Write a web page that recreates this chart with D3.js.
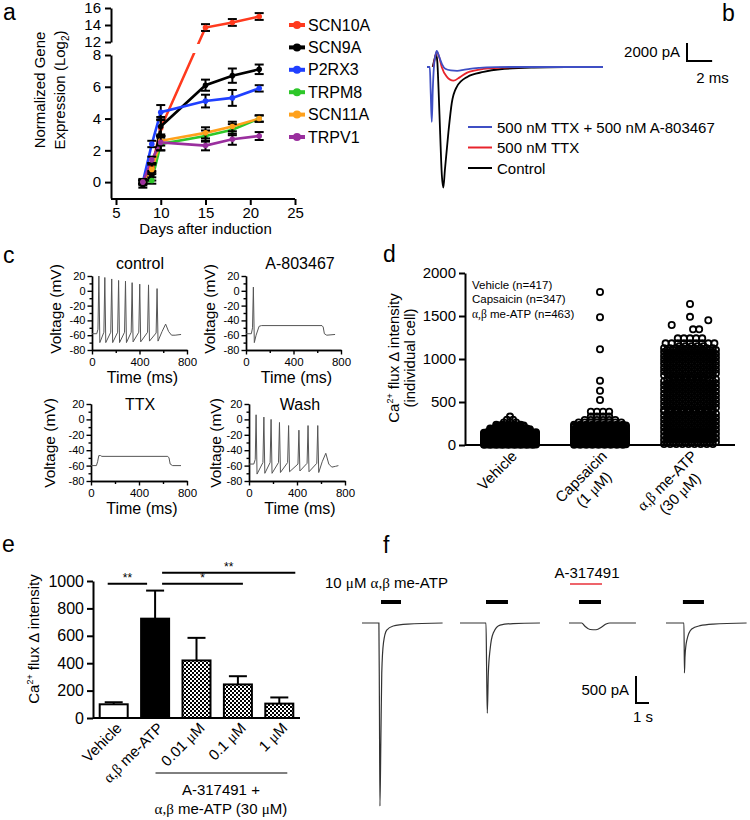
<!DOCTYPE html>
<html><head><meta charset="utf-8">
<script src="https://cdn.jsdelivr.net/npm/d3@7"></script>
<style>
body{margin:0;background:#fff}
text{font-family:"Liberation Sans",Arial,Helvetica,sans-serif;fill:#000}
</style>
</head><body>
<script>
// ================= DATA =================
// ---- panel a: qPCR time course ----
const aDays = [8, 9, 10, 15, 18, 21];
const aGenes = ["SCN10A", "SCN9A", "P2RX3", "TRPM8", "SCN11A", "TRPV1"];
const aSCN10A = [0, 0.9, 3.4, 13.7, 14.3, 15.0];
const aSCN10AErr = [0.2, 0.3, 0.5, 0.4, 0.4, 0.4];
const aSCN9A = [-0.2, 0.4, 3.5, 6.1, 6.7, 7.1];
const aSCN9AErr = [0.15, 0.3, 0.6, 0.35, 0.45, 0.3];
const aP2RX3 = [0, 2.4, 4.4, 5.1, 5.3, 5.9];
const aP2RX3Err = [0.1, 0.2, 0.45, 0.4, 0.5, 0.2];
const aTRPM8 = [0, 0.1, 2.4, 2.9, 3.3, 4.0];
const aTRPM8Err = [0.1, 0.2, 0.4, 0.35, 0.35, 0.2];
const aSCN11A = [0, 0.8, 2.6, 3.1, 3.5, 4.0];
const aSCN11AErr = [0.1, 0.3, 0.3, 0.35, 0.3, 0.2];
const aTRPV1 = [0, 1.4, 2.5, 2.3, 2.7, 2.9];
const aTRPV1Err = [0.1, 0.2, 0.5, 0.3, 0.35, 0.25];
const aXTicks = [5, 10, 15, 20, 25];
const aYTicksLow = [0, 2, 4, 6, 8];
const aYTicksHigh = [12, 14, 16];

// ---- panel b: Na currents, [ms, pA] ----
const bLegend = ["500 nM TTX + 500 nM A-803467", "500 nM TTX", "Control"];
const bControl = [[0.45,0],[0.6,900],[0.72,1400],[0.82,600],[0.92,-2500],[1.05,-7500],[1.18,-12000],[1.3,-13400],[1.42,-11500],[1.7,-7300],[1.97,-4000],[2.37,-2200],[3.2,-1100],[4.5,-550],[5.8,-250],[8.5,-60],[11,-10],[14,0]];
const bTTX = [[0.5,0],[0.62,900],[0.77,1700],[0.95,1200],[1.17,0],[1.57,-1070],[2.1,-1520],[2.6,-1150],[3.2,-630],[4.5,-220],[5.8,-80],[8,-10],[14,0]];
const bTTXA = [[0,0],[0.22,0],[0.3,-3000],[0.38,-6100],[0.46,-2500],[0.55,0],[0.66,1200],[0.78,1780],[0.95,1200],[1.2,300],[1.45,-200],[1.9,-380],[2.4,-420],[2.9,-330],[3.4,-200],[4.2,-90],[5.5,-20],[7,0],[14,0]];

// ---- panel c: current-clamp, [ms, mV] ----
const cTitles = ["control", "A-803467", "TTX", "Wash"];
const cControl = [[0,-58],[40,-58],[50,-52],[58,20],[66,-70],[100,-56],[108,18],[116,-70],[158,-56],[166,16],[174,-70],[216,-56],[224,14],[232,-70],[274,-56],[282,13],[290,-70],[330,-56],[338,11],[346,-69],[394,-56],[402,9],[410,-69],[468,-56],[476,8],[484,-68],[540,-57],[548,3],[556,-68],[590,-55],[620,-45],[645,-55],[670,-60],[700,-60],[750,-59]];
const cA803467 = [[0,-58],[45,-58],[55,-50],[62,5],[70,-70],[85,-60],[110,-48],[130,-47],[640,-47],[650,-49],[660,-58],[680,-60],[750,-59]];
const cTTX = [[0,-60],[45,-60],[55,-55],[65,-47],[80,-47],[90,-48],[640,-48],[650,-50],[660,-58],[680,-60],[750,-60]];
const cWash = [[0,-58],[40,-58],[52,-52],[59,6],[67,-71],[116,-56],[124,3],[132,-70],[176,-56],[184,0],[192,-70],[246,-56],[254,-4],[262,-69],[322,-56],[330,-8],[338,-68],[408,-58],[416,-14],[424,-67],[484,-57],[492,-8],[500,-68],[565,-57],[573,-8],[581,-69],[610,-55],[640,-44],[665,-58],[690,-62],[720,-61],[745,-60]];
const cYTicks = [20, 0, -20, -40, -60, -80];
const cXTicks = [0, 400, 800];

// ---- panel d: individual-cell Ca2+ responses ----
const dCats = ["Vehicle", "Capsaicin", "α,β me-ATP"];
const dLegend = ["Vehicle (n=417)", "Capsaicin (n=347)", "α,β me-ATP (n=463)"];
// dense ranges: [low, high, number of cells, max cells side by side]
const dVehicleBins = [[0, 100, 246, 9], [100, 150, 90, 9], [150, 200, 50, 7], [200, 240, 25, 5]];
// sparse rows: [value, number of cells in the row]
const dVehicleRows = [[262, 3], [295, 2], [330, 1]];
const dCapsBins = [[0, 100, 164, 9], [100, 200, 110, 9], [200, 240, 45, 9]];
const dCapsRows = [[262, 8], [292, 6], [330, 4], [387, 4], [523, 1], [631, 1], [748, 1], [1113, 1], [1485, 1], [1779, 1]];
const dAtpBins = [[0, 400, 153, 9], [400, 800, 150, 9], [800, 1160, 140, 9]];
const dAtpRows = [[1182, 9], [1240, 5], [1345, 2], [1395, 1], [1450, 1], [1490, 1], [1640, 1]];
const dAtpRowShift = [0, 0, 1, -3, 3, 0, 0];
const dYTicks = [0, 500, 1000, 1500, 2000];

// ---- panel e: mean Ca2+ flux ----
const eCats = ["Vehicle", "α,β me-ATP", "0.01 μM", "0.1 μM", "1 μM"];
const eMeans = [100, 725, 420, 245, 105];
const eSEM = [15, 205, 165, 60, 45];
const eYTicks = [0, 200, 400, 600, 800, 1000];
const eComparisons = [["Vehicle", "α,β me-ATP", "**"], ["α,β me-ATP", "0.1 μM", "*"], ["α,β me-ATP", "1 μM", "**"]];

// ---- panel f: P2X3 currents, [s, pA] ----
const fTrace1 = [[0,0],[1.3,0],[1.34,-1500],[1.38,-3390],[1.45,-2200],[1.52,-926],[1.65,-370],[1.9,-130],[2.4,-55],[3.5,-20],[6.2,0]];
const fTrace2 = [[0,0],[2.0,0],[2.05,-900],[2.1,-1670],[2.18,-926],[2.31,-500],[2.56,-185],[3.08,-40],[4.08,-10],[6.15,0]];
const fTrace3 = [[0,0],[0.98,0],[1.23,-60],[1.62,-120],[2.08,-125],[2.54,-70],[2.85,-20],[3.15,0],[5.15,0]];
const fTrace4 = [[0,0],[1.38,0],[1.42,-925],[1.46,-630],[1.59,-330],[1.98,-110],[2.62,-50],[3.62,-20],[6.2,0]];
const fAgonistOn = [1.46, 2.0, 0.77, 1.3];
const fAgonistOff = [3.0, 3.69, 2.46, 2.92];

// ================= DRAWING =================
const SERIF = '"Liberation Serif","Times New Roman",serif';
const svg = d3.select("body").append("svg").attr("width", 750).attr("height", 820);
const defs = svg.append("defs");
const fmtInt = d3.format("d");

function styleAxis(g, fs, sw) {
  g.attr("font-family", null).attr("font-size", null);
  g.selectAll("text").style("font-size", fs + "px").attr("fill", "#000");
  g.selectAll("line").attr("stroke", "#000").attr("stroke-width", sw);
  g.select(".domain").attr("stroke", "#000").attr("stroke-width", sw);
}
function panelLabel(t, x, y) {
  svg.append("text").attr("x", x).attr("y", y).style("font-size", "23px").text(t);
}
function sup(textSel, pre, supTxt, post, fs) {
  textSel.append("tspan").text(pre);
  textSel.append("tspan").attr("dy", -fs * 0.4).style("font-size", (fs * 0.6) + "px").text(supTxt);
  textSel.append("tspan").attr("dy", fs * 0.4).text(post);
}
function greek(sel, str) {
  str.split(/(α,β|μ)/).forEach(p => {
    if (!p) return;
    const t = sel.append("tspan").text(p);
    if (p === "α,β" || p === "μ") t.style("font-family", SERIF);
  });
}

// ---------- Panel a ----------
panelLabel("a", 3, 20);
const aColors = ["#ff3a1e", "#000000", "#2040ff", "#2ec72a", "#ffa11c", "#9a2f9e"];
const aVals = [aSCN10A, aSCN9A, aP2RX3, aTRPM8, aSCN11A, aTRPV1];
const aErrs = [aSCN10AErr, aSCN9AErr, aP2RX3Err, aTRPM8Err, aSCN11AErr, aTRPV1Err];
const ax = d3.scaleLinear().domain([5, 25]).range([116, 295]);
const ayLow = d3.scaleLinear().domain([-1, 8]).range([198, 55]);
const ayHigh = d3.scaleLinear().domain([12, 16]).range([42, 8]);
function ay(v) {
  if (v <= 8) return ayLow(v);
  if (v >= 12) return ayHigh(v);
  return ayLow(8) + (v - 8) / 4 * (ayHigh(12) - ayLow(8));
}
const aG = svg.append("g");
aG.append("g").attr("transform", "translate(111,0)")
  .call(d3.axisLeft(ayLow).tickValues(aYTicksLow).tickFormat(fmtInt).tickSize(6).tickSizeOuter(0).tickPadding(4))
  .call(g => styleAxis(g, 15, 2));
aG.append("g").attr("transform", "translate(111,0)")
  .call(d3.axisLeft(ayHigh).tickValues(aYTicksHigh).tickFormat(fmtInt).tickSize(6).tickSizeOuter(0).tickPadding(4))
  .call(g => styleAxis(g, 15, 2));
aG.append("g").attr("transform", "translate(0,199)")
  .call(d3.axisBottom(ax).tickValues(aXTicks).tickFormat(fmtInt).tickSize(6).tickSizeOuter(0).tickPadding(2))
  .call(g => styleAxis(g, 15, 2))
  .call(g => g.select(".domain").attr("d", `M111,0H${ax(25)}`));
const cpA = defs.append("clipPath").attr("id", "aBreak");
cpA.append("rect").attr("x", 105).attr("y", 0).attr("width", 200).attr("height", 44);
cpA.append("rect").attr("x", 105).attr("y", 53).attr("width", 200).attr("height", 160);
const aLine = d3.line().x((d, i) => ax(aDays[i])).y(d => ay(d));
const aPlot = aG.append("g").attr("clip-path", "url(#aBreak)");
aGenes.forEach((gname, si) => {
  aPlot.append("path").datum(aVals[si]).attr("d", aLine)
    .attr("fill", "none").attr("stroke", aColors[si]).attr("stroke-width", 2.6);
});
aGenes.forEach((gname, si) => {
  const eg = aG.append("g");
  aVals[si].forEach((v, i) => {
    const x = ax(aDays[i]), e = aErrs[si][i];
    eg.append("line").attr("x1", x).attr("x2", x).attr("y1", ay(v - e)).attr("y2", ay(v + e)).attr("stroke", "#000").attr("stroke-width", 2);
    [v - e, v + e].forEach(w => eg.append("line").attr("x1", x - 4.5).attr("x2", x + 4.5).attr("y1", ay(w)).attr("y2", ay(w)).attr("stroke", "#000").attr("stroke-width", 2));
    eg.append("circle").attr("cx", x).attr("cy", ay(v)).attr("r", 2.8).attr("fill", aColors[si]);
  });
});
aG.append("text").attr("x", ax(15)).attr("y", 234).attr("text-anchor", "middle").style("font-size", "15px").text("Days after induction");
aG.append("text").attr("transform", "translate(45,90) rotate(-90)").attr("text-anchor", "middle").style("font-size", "15px").text("Normalized Gene");
const aYl = aG.append("text").attr("transform", "translate(65,90) rotate(-90)").attr("text-anchor", "middle").style("font-size", "15px");
aYl.append("tspan").text("Expression (Log");
aYl.append("tspan").attr("dy", 4).style("font-size", "10px").text("2");
aYl.append("tspan").attr("dy", -4).text(")");
aGenes.forEach((gname, i) => {
  const y = 25 + i * 22.4;
  aG.append("line").attr("x1", 289).attr("x2", 305).attr("y1", y).attr("y2", y).attr("stroke", aColors[i]).attr("stroke-width", 4);
  aG.append("circle").attr("cx", 297).attr("cy", y).attr("r", 4).attr("fill", aColors[i]);
  aG.append("text").attr("x", 308).attr("y", y + 5.5).style("font-size", "16px").text(gname);
});

// ---------- Panel b ----------
panelLabel("b", 722, 21);
const bx = d3.scaleLinear().domain([0, 14]).range([427, 603]);
const by = d3.scaleLinear().domain([0, -2000]).range([67, 85]);
const bLine = d3.line().x(d => bx(d[0])).y(d => by(d[1])).curve(d3.curveMonotoneX);
const bColors = ["#3f4fc4", "#e8242c", "#000000"];
const bTraces = [bTTXA, bTTX, bControl];
[2, 1, 0].forEach(i => {
  svg.append("path").datum(bTraces[i]).attr("d", bLine).attr("fill", "none")
    .attr("stroke", bColors[i]).attr("stroke-width", 1.8).attr("stroke-linejoin", "round");
});
bLegend.forEach((t, i) => {
  const y = 127 + i * 20.5;
  svg.append("line").attr("x1", 468).attr("x2", 492).attr("y1", y).attr("y2", y).attr("stroke", bColors[i]).attr("stroke-width", 2);
  svg.append("text").attr("x", 497).attr("y", y + 5.5).style("font-size", "15px").text(t);
});
{
  const sx = 687, sy = by(0) - 6;
  const len2ms = bx(2) - bx(0), len2000 = by(-2000) - by(0);
  svg.append("path").attr("d", `M${sx},${sy - len2000}V${sy}H${sx + len2ms}`).attr("fill", "none").attr("stroke", "#000").attr("stroke-width", 2);
  svg.append("text").attr("x", sx - 7).attr("y", sy - len2000 / 2 + 5).attr("text-anchor", "end").style("font-size", "15px").text("2000 pA");
  svg.append("text").attr("x", sx + len2ms / 2 + 13).attr("y", sy + 22).attr("text-anchor", "middle").style("font-size", "15px").text("2 ms");
}

// ---------- Panel c ----------
panelLabel("c", 3, 263);
const cTraces = [cControl, cA803467, cTTX, cWash];
const cBoxes = [
  {x0: 92, x1: 187, yb: 350, yt: 276, tx: 140, ty: 269, lx: 61, ly: 309, xl: 383},
  {x0: 246, x1: 341, yb: 350, yt: 276, tx: 300, ty: 269, lx: 215, ly: 309, xl: 383},
  {x0: 91, x1: 187, yb: 481, yt: 404, tx: 140, ty: 410, lx: 55, ly: 443, xl: 514},
  {x0: 249, x1: 345, yb: 481, yt: 404, tx: 300, ty: 410, lx: 221, ly: 443, xl: 514}
];
cBoxes.forEach((b, i) => {
  const xs = d3.scaleLinear().domain([0, 800]).range([b.x0, b.x1]);
  const ys = d3.scaleLinear().domain([-80, 20]).range([b.yb, b.yt]);
  const g = svg.append("g");
  g.append("g").attr("transform", `translate(${b.x0},0)`)
    .call(d3.axisLeft(ys).tickValues([10, -10, -30, -50, -70]).tickSize(2.5).tickSizeOuter(0).tickFormat(""))
    .call(gg => styleAxis(gg, 11, 1.4));
  g.append("g").attr("transform", `translate(${b.x0},0)`)
    .call(d3.axisLeft(ys).tickValues(cYTicks).tickSize(4.5).tickSizeOuter(0).tickPadding(2).tickFormat(d => String(d)))
    .call(gg => styleAxis(gg, 11, 1.4));
  g.append("g").attr("transform", `translate(0,${b.yb})`)
    .call(d3.axisBottom(xs).tickValues([200, 600]).tickSize(3).tickSizeOuter(0).tickFormat(""))
    .call(gg => styleAxis(gg, 11, 1.4));
  g.append("g").attr("transform", `translate(0,${b.yb})`)
    .call(d3.axisBottom(xs).tickValues(cXTicks).tickFormat(fmtInt).tickSize(4.5).tickSizeOuter(0).tickPadding(3))
    .call(gg => styleAxis(gg, 11.5, 1.4));
  g.append("path").datum(cTraces[i])
    .attr("d", d3.line().x(d => xs(d[0])).y(d => ys(d[1])))
    .attr("fill", "none").attr("stroke", "#555").attr("stroke-width", 1);
  g.append("text").attr("x", b.tx).attr("y", b.ty).attr("text-anchor", "middle").style("font-size", "16px").text(cTitles[i]);
  g.append("text").attr("transform", `translate(${b.lx},${b.ly}) rotate(-90)`).attr("text-anchor", "middle").style("font-size", "15.5px").text("Voltage (mV)");
  g.append("text").attr("x", (b.x0 + b.x1) / 2 + 3).attr("y", b.xl).attr("text-anchor", "middle").style("font-size", "16px").text("Time (ms)");
});

// ---------- Panel d ----------
panelLabel("d", 383, 262);
const dx = d3.scalePoint().domain(dCats).range([465, 735]).padding(0.5);
const dy = d3.scaleLinear().domain([0, 2000]).range([445, 273]);
const dG = svg.append("g");
dG.append("g").attr("transform", "translate(465,0)")
  .call(d3.axisLeft(dy).tickValues(dYTicks).tickFormat(fmtInt).tickSize(6).tickSizeOuter(0).tickPadding(3))
  .call(g => styleAxis(g, 15, 2));
function swarm(bins, rows, shifts) {
  const pts = [];
  bins.forEach(([lo, hi, n, w]) => {
    const nr = Math.ceil(n / w);
    let left = n;
    for (let r = 0; r < nr; r++) {
      const m = Math.min(w, left); left -= m;
      const v = lo + (r + 0.5) * (hi - lo) / nr;
      for (let k = 0; k < m; k++) pts.push({v: v, slot: k - (m - 1) / 2 + ((r % 2) ? 0.25 : -0.25)});
    }
  });
  rows.forEach(([v, n], i) => {
    const s = shifts ? shifts[i] : 0;
    for (let k = 0; k < n; k++) pts.push({v: v, slot: k - (n - 1) / 2 + s});
  });
  return pts;
}
const dGroups = [swarm(dVehicleBins, dVehicleRows), swarm(dCapsBins, dCapsRows), swarm(dAtpBins, dAtpRows, dAtpRowShift)];
dGroups.forEach((pts, gi) => {
  dG.append("g").selectAll("circle").data(pts).join("circle")
    .attr("cx", d => dx(dCats[gi]) + d.slot * 6.1)
    .attr("cy", d => dy(d.v))
    .attr("r", 3.1).attr("fill", "none").attr("stroke", "#000").attr("stroke-width", 1.8);
});
dG.append("line").attr("x1", 465).attr("x2", 735).attr("y1", dy(0)).attr("y2", dy(0)).attr("stroke", "#000").attr("stroke-width", 2);
dLegend.forEach((t, i) => {
  const tx = dG.append("text").attr("x", 472).attr("y", 289 + i * 14.3).style("font-size", "11.5px");
  greek(tx, t);
});
{
  const yl = dG.append("text").attr("transform", "translate(399,358) rotate(-90)").attr("text-anchor", "middle").style("font-size", "15px");
  sup(yl, "Ca", "2+", " flux Δ intensity", 15);
  dG.append("text").attr("transform", "translate(415,358) rotate(-90)").attr("text-anchor", "middle").style("font-size", "15px").text("(individual cell)");
}
const dLabels = [["Vehicle"], ["Capsaicin", "(1 μM)"], ["α,β me-ATP", "(30 μM)"]];
dLabels.forEach((lines, i) => {
  const g = dG.append("g").attr("transform", `translate(${dx(dCats[i]) + 8},${457}) rotate(-45)`);
  const t1 = g.append("text").attr("text-anchor", "end").style("font-size", "15px");
  greek(t1, lines[0]);
  if (lines[1]) {
    const w = t1.node().getComputedTextLength();
    const t2 = g.append("text").attr("x", -w / 2).attr("y", 18).attr("text-anchor", "middle").style("font-size", "15px");
    greek(t2, lines[1]);
  }
});

// ---------- Panel e ----------
panelLabel("e", 2, 552);
const pat = defs.append("pattern").attr("id", "checker").attr("patternUnits", "userSpaceOnUse").attr("width", 4).attr("height", 4);
pat.append("rect").attr("width", 4).attr("height", 4).attr("fill", "#fff");
pat.append("rect").attr("x", 0).attr("y", 0).attr("width", 2).attr("height", 2).attr("fill", "#000");
pat.append("rect").attr("x", 2).attr("y", 2).attr("width", 2).attr("height", 2).attr("fill", "#000");
const ex = d3.scalePoint().domain(eCats).range([93, 300]).padding(0.5);
const ey = d3.scaleLinear().domain([0, 1000]).range([718, 581]);
const eG = svg.append("g");
const eFill = ["#fff", "#000", "url(#checker)", "url(#checker)", "url(#checker)"];
const eBarW = 28;
eCats.forEach((c, i) => {
  const x = ex(c);
  eG.append("line").attr("x1", x).attr("x2", x).attr("y1", ey(eMeans[i])).attr("y2", ey(eMeans[i] + eSEM[i])).attr("stroke", "#000").attr("stroke-width", 2);
  eG.append("line").attr("x1", x - 9).attr("x2", x + 9).attr("y1", ey(eMeans[i] + eSEM[i])).attr("y2", ey(eMeans[i] + eSEM[i])).attr("stroke", "#000").attr("stroke-width", 2);
  eG.append("rect").attr("x", x - eBarW / 2).attr("y", ey(eMeans[i])).attr("width", eBarW).attr("height", ey(0) - ey(eMeans[i]))
    .attr("fill", eFill[i]).attr("stroke", "#000").attr("stroke-width", 2);
});
eG.append("g").attr("transform", "translate(93,0)")
  .call(d3.axisLeft(ey).tickValues(eYTicks).tickFormat(fmtInt).tickSize(6).tickSizeOuter(0).tickPadding(3))
  .call(g => styleAxis(g, 16, 2));
eG.append("line").attr("x1", 93).attr("x2", 300).attr("y1", ey(0)).attr("y2", ey(0)).attr("stroke", "#000").attr("stroke-width", 2);
{
  const yl = eG.append("text").attr("transform", "translate(39,639) rotate(-90)").attr("text-anchor", "middle").style("font-size", "15px");
  sup(yl, "Ca", "2+", " flux Δ intensity", 15);
}
eCats.forEach((c, i) => {
  const t = eG.append("text").attr("transform", `translate(${ex(c) + 9},${729}) rotate(-45)`).attr("text-anchor", "end").style("font-size", "15px");
  greek(t, c);
});
const eSigGeom = [{x1: -6, x2: -8, lvl: 980}, {x1: 7, x2: 5, lvl: 980}, {x1: 7, x2: 16, lvl: 1060}];
eComparisons.forEach((cmp, i) => {
  const g = eSigGeom[i];
  const xa = ex(cmp[0]) + g.x1, xb = ex(cmp[1]) + g.x2, y = ey(g.lvl);
  eG.append("line").attr("x1", xa).attr("x2", xb).attr("y1", y).attr("y2", y).attr("stroke", "#000").attr("stroke-width", 2);
  eG.append("text").attr("x", (xa + xb) / 2).attr("y", y - 2).attr("text-anchor", "middle").style("font-size", "12px").attr("fill", "#444").text(cmp[2]);
});
eG.append("line").attr("x1", ex("0.01 μM") - 41).attr("x2", ex("1 μM") + 8).attr("y1", 773).attr("y2", 773).attr("stroke", "#000").attr("stroke-width", 1);
{
  const cx = (ex("0.01 μM") + ex("1 μM")) / 2 - 17;
  eG.append("text").attr("x", cx).attr("y", 795).attr("text-anchor", "middle").style("font-size", "15px").text("A-317491 +");
  const t = eG.append("text").attr("x", cx).attr("y", 814).attr("text-anchor", "middle").style("font-size", "15px");
  greek(t, "α,β me-ATP (30 μM)");
}

// ---------- Panel f ----------
panelLabel("f", 383, 553);
const fTraces = [fTrace1, fTrace2, fTrace3, fTrace4];
const fOrigins = [362, 460, 569, 666];
const fPxPerS = 13;
const fy = d3.scaleLinear().domain([0, -500]).range([623, 650]);
fTraces.forEach((tr, i) => {
  const xs = d3.scaleLinear().domain([0, 1]).range([fOrigins[i], fOrigins[i] + fPxPerS]);
  svg.append("path").datum(tr).attr("d", d3.line().x(d => xs(d[0])).y(d => fy(d[1])).curve(d3.curveMonotoneX))
    .attr("fill", "none").attr("stroke", "#333").attr("stroke-width", 1.2);
  svg.append("line").attr("x1", xs(fAgonistOn[i])).attr("x2", xs(fAgonistOff[i])).attr("y1", 602).attr("y2", 602)
    .attr("stroke", "#000").attr("stroke-width", 4);
});
{
  const t = svg.append("text").attr("x", 325).attr("y", 588).style("font-size", "15px");
  greek(t, "10 μM α,β me-ATP");
  svg.append("text").attr("x", 587).attr("y", 578).attr("text-anchor", "middle").style("font-size", "15px").attr("fill", "#e8303a").text("A-317491");
  svg.append("line").attr("x1", 570).attr("x2", 602).attr("y1", 584).attr("y2", 584).attr("stroke", "#e8303a").attr("stroke-width", 1.5);
  const sx = 636, sy = 703;
  const h = fy(-500) - fy(0);
  svg.append("path").attr("d", `M${sx},${sy - h}V${sy}H${sx + fPxPerS}`).attr("fill", "none").attr("stroke", "#000").attr("stroke-width", 2);
  svg.append("text").attr("x", sx - 7).attr("y", sy - h / 2 + 5).attr("text-anchor", "end").style("font-size", "15px").text("500 pA");
  svg.append("text").attr("x", sx + 7).attr("y", sy + 19).attr("text-anchor", "middle").style("font-size", "15px").text("1 s");
}
</script>
</body></html>
